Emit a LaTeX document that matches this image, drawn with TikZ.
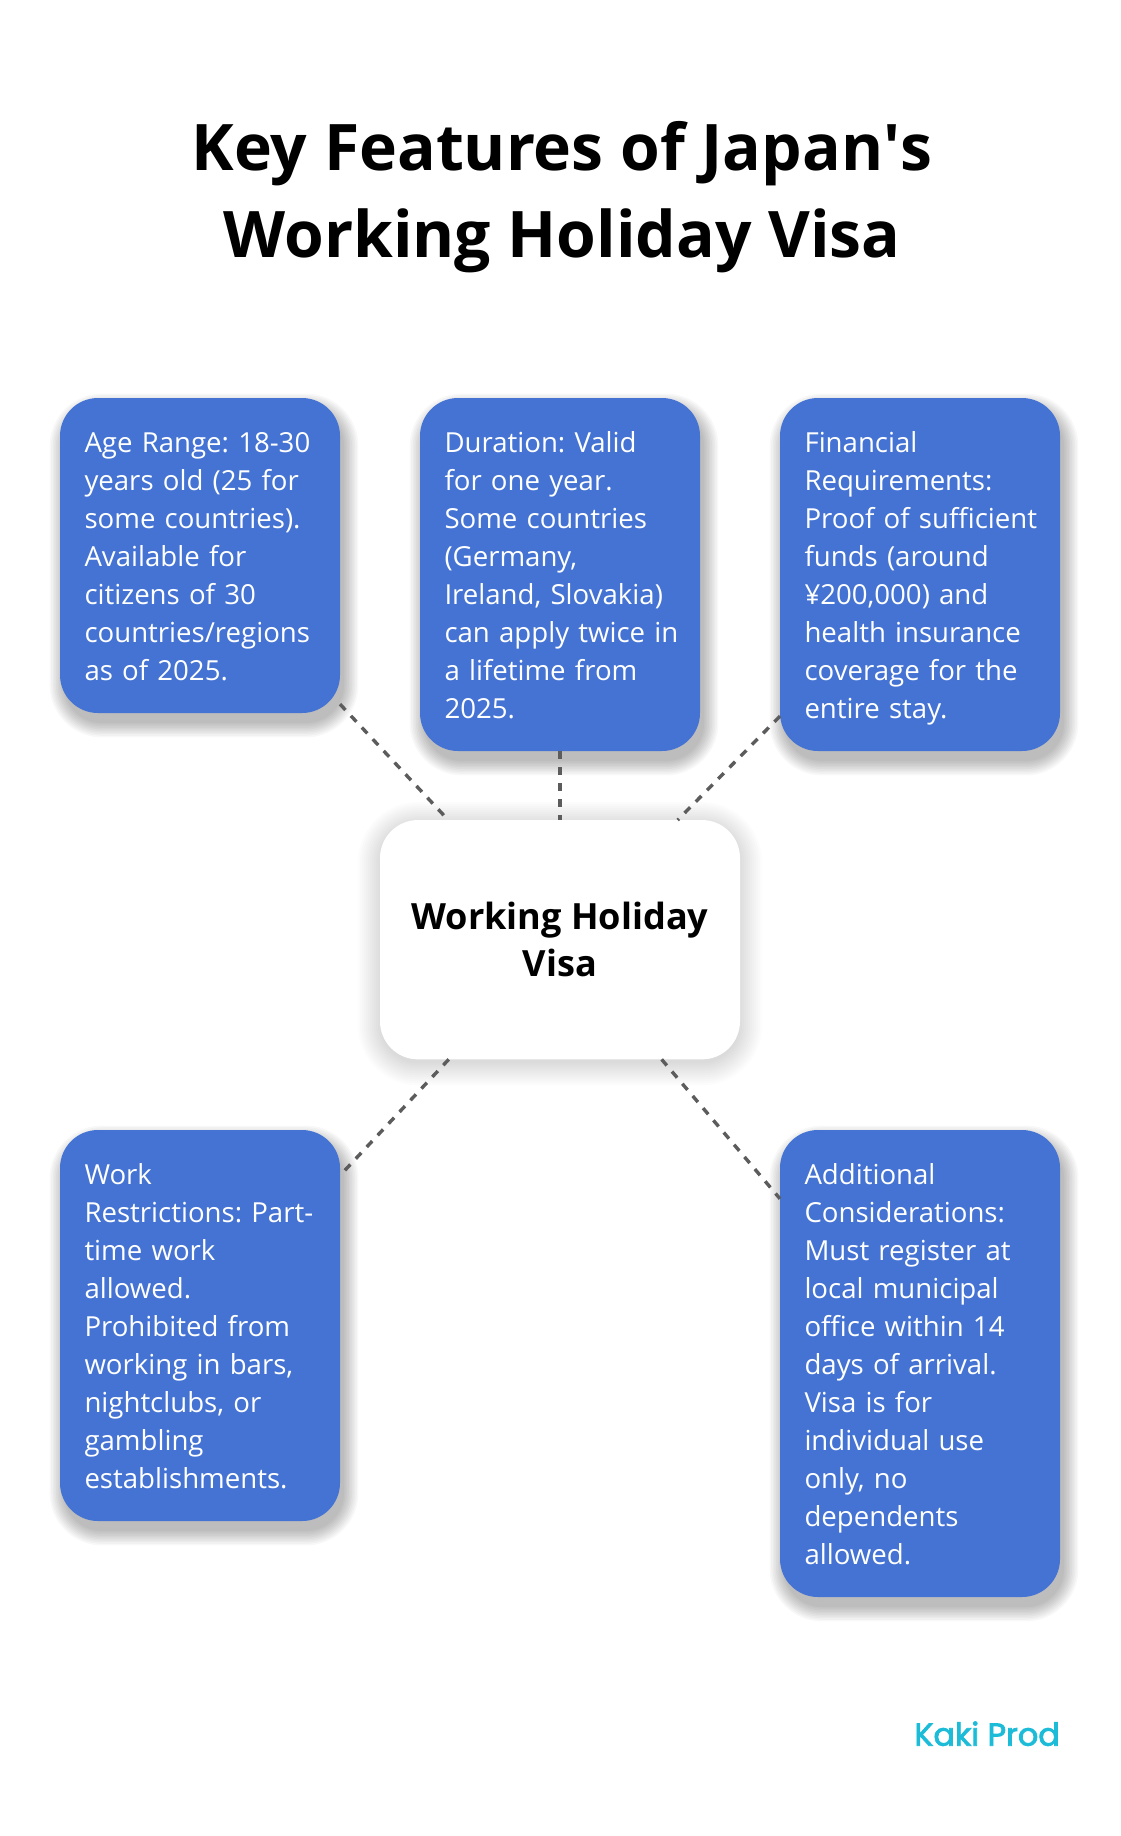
\documentclass[tikz,border=0pt]{standalone}
\usepackage{fontspec}
\setmainfont{Open Sans}
\newfontfamily\kakifont{Poppins}[FakeBold=2.5]
\pgfdeclarelayer{paper}
\pgfdeclarelayer{shadowlayer}
\pgfsetlayers{paper,shadowlayer,main}
\definecolor{boxblue}{RGB}{68,115,211}
\definecolor{linkgray}{RGB}{92,92,92}
\definecolor{kakicyan}{RGB}{28,188,217}
\newcommand{\straightapos}{\XeTeXglyph\XeTeXcharglyph"0027\relax}
% #1 node, #2 dx, #3 dy (up positive), #4 layers, #5 opacity per layer, #6 step
\newcommand{\softshadow}[6]{%
  \foreach \k in {1,...,#4}{%
    \pgfmathsetmacro{\shsp}{#6*(#4-\k)}%
    \pgfmathsetmacro{\shxa}{#2-\shsp}%
    \pgfmathsetmacro{\shxb}{#2+\shsp}%
    \pgfmathsetmacro{\shya}{#3+\shsp}%
    \pgfmathsetmacro{\shyb}{#3-\shsp}%
    \pgfmathsetmacro{\shrad}{38+\shsp}%
    \fill[black, opacity=#5, rounded corners=\shrad pt]
      ([xshift=\shxa pt, yshift=\shya pt]#1.north west) rectangle
      ([xshift=\shxb pt, yshift=\shyb pt]#1.south east);
  }}
\AtBeginDocument{\frenchspacing}
\begin{document}
\begin{tikzpicture}[x=1pt,y=-1pt,
  feat/.style={fill=boxblue, rounded corners=38pt, text width=231pt,
    inner xsep=24.5pt, inner ysep=21.6pt, text height=32.4pt, align=left,
    anchor=north west, text=white, outer sep=0pt,
    font=\fontsize{27.6}{38}\selectfont},
  hub/.style={fill=white, rounded corners=38pt, minimum width=360pt,
    minimum height=239.3pt, align=center, outer sep=0pt, text=black,
    font=\fontsize{36.1}{47.4}\selectfont\bfseries},
  link/.style={draw=linkgray, line width=3.4pt, dash pattern=on 8pt off 8pt},
  heading/.style={anchor=base, font=\fontsize{64.2}{80}\selectfont\bfseries, text=black, inner sep=0pt},
  brand/.style={anchor=base east, font=\kakifont\fontsize{31.8}{36}\selectfont, text=kakicyan, inner sep=0pt}
]
\begin{pgfonlayer}{paper}
\path[use as bounding box, fill=white] (0,0) rectangle (1120,1836);
\end{pgfonlayer}

\node[heading] (title1) at (562,170) {Key Features of Japan\straightapos s};
\node[heading] (title2) at (562,257) {Working Holiday Visa};

\node[feat] (age) at (60,398) {\mbox{Age Range: 18-30}\\\mbox{years old (25 for}\\\mbox{some countries).}\\\mbox{Available for}\\\mbox{citizens of 30}\\\mbox{countries/regions}\\\mbox{as of 2025.}\strut};
\node[feat] (dur) at (420,398) {\mbox{Duration: Valid}\\\mbox{for one year.}\\\mbox{Some countries}\\\mbox{(Germany,}\\\mbox{Ireland, Slovakia)}\\\mbox{can apply twice in}\\\mbox{a lifetime from}\\\mbox{2025.}\strut};
\node[feat] (fin) at (780,398) {\mbox{Financial}\\\mbox{Requirements:}\\\mbox{Proof of sufficient}\\\mbox{funds (around}\\\mbox{¥200,000) and}\\\mbox{health insurance}\\\mbox{coverage for the}\\\mbox{entire stay.}\strut};

\node[hub] (hub) at (560,939.7) {Working Holiday\\Visa};

\node[feat] (work) at (60,1130) {\mbox{Work}\\\mbox{Restrictions: Part-}\\\mbox{time work}\\\mbox{allowed.}\\\mbox{Prohibited from}\\\mbox{working in bars,}\\\mbox{nightclubs, or}\\\mbox{gambling}\\\mbox{establishments.}\strut};
\node[feat] (add) at (780,1130) {\mbox{Additional}\\\mbox{Considerations:}\\\mbox{Must register at}\\\mbox{local municipal}\\\mbox{office within 14}\\\mbox{days of arrival.}\\\mbox{Visa is for}\\\mbox{individual use}\\\mbox{only, no}\\\mbox{dependents}\\\mbox{allowed.}\strut};

\begin{pgfonlayer}{shadowlayer}
\softshadow{age}{4}{-10}{10}{0.028}{1.6}
\softshadow{dur}{4}{-10}{10}{0.028}{1.6}
\softshadow{fin}{4}{-10}{10}{0.028}{1.6}
\softshadow{work}{4}{-10}{10}{0.028}{1.6}
\softshadow{add}{4}{-10}{10}{0.028}{1.6}
\softshadow{hub}{0}{-4}{12}{0.013}{2}
\end{pgfonlayer}

\draw[link] (age) -- (hub);
\draw[link] (dur) -- (hub);
\draw[link] (fin) -- (hub);
\draw[link] (hub) -- (work);
\draw[link] (hub) -- (add);

\node[brand] (kaki) at (1060,1745.7) {Kaki Prod};
\end{tikzpicture}
\end{document}
